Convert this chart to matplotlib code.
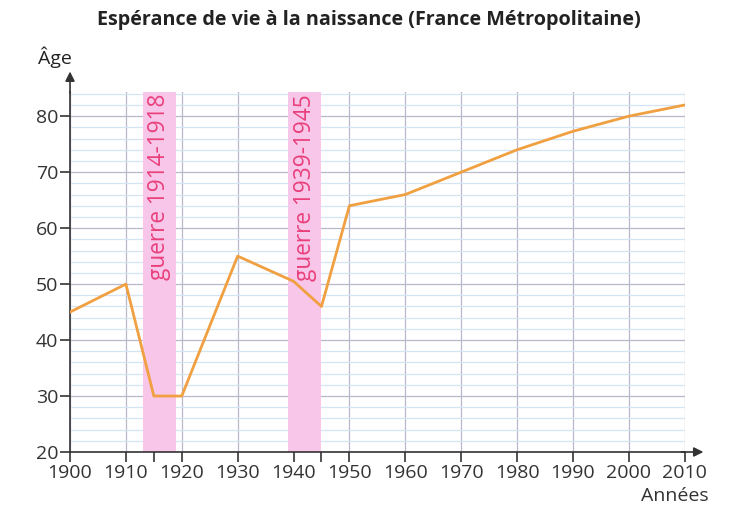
import matplotlib
matplotlib.use("Agg")
import matplotlib.pyplot as plt
from matplotlib.ticker import MultipleLocator, FixedLocator

plt.rcParams['font.family'] = ['Open Sans', 'DejaVu Sans']

years = [1900, 1910, 1915, 1920, 1930, 1940, 1945, 1950, 1960, 1970, 1980, 1990, 2000, 2010]
life_exp = [45, 50, 30, 30, 55, 50.5, 46, 64, 66, 70, 74, 77.3, 80, 82]
war_periods = [(1913, 1919, "guerre 1914-1918"), (1939, 1945, "guerre 1939-1945")]
xticks = list(range(1900, 2011, 10))
extra_xticks = [1915, 1945]
yticks = [20, 30, 40, 50, 60, 70, 80]

fig = plt.figure(figsize=(7.37, 5.09), dpi=100)
ax = fig.add_axes([0.095, 0.112, 0.834, 0.707])
ax.set_xlim(1900, 2010)
ax.set_ylim(20, 84.3)

# grid
ax.yaxis.set_minor_locator(MultipleLocator(2))
ax.xaxis.set_minor_locator(FixedLocator(extra_xticks))
ax.set_xticks(xticks)
ax.set_yticks(yticks)
ax.grid(which='minor', axis='y', color='#d3e4f3', lw=0.9)
ax.grid(which='major', axis='y', color='#b8b8cc', lw=0.9)
ax.grid(which='major', axis='x', color='#b8b8cc', lw=0.9)
ax.set_axisbelow(True)
ax.tick_params(axis='y', which='minor', length=0)
ax.tick_params(axis='x', which='minor', length=7, width=1.2, color='#333333')
ax.tick_params(which='major', length=7, width=1.2, color='#333333', labelsize=14,
               labelcolor='#333333', pad=1.5)

for a, b, lab in war_periods:
    ax.axvspan(a, b, color='#f8c6e8', lw=0, zorder=1)
    ax.text((a + b) / 2, 84.0, lab, rotation=90, ha='center', va='top',
            color='#e8407c', fontsize=16.3, zorder=2)

ax.plot(years, life_exp, color='#f0a040', lw=2, zorder=3)

for s in ['top', 'right']:
    ax.spines[s].set_visible(False)
ax.spines['left'].set_color('#333333')
ax.spines['bottom'].set_color('#333333')
ax.spines['left'].set_linewidth(1.2)
ax.spines['bottom'].set_linewidth(1.2)

# arrows
ax.annotate('', xy=(0, 1.065), xytext=(0, 0.99), xycoords='axes fraction',
            arrowprops=dict(arrowstyle='-|>', color='#333333', lw=1.2, mutation_scale=14),
            annotation_clip=False)
ax.annotate('', xy=(1.035, 0), xytext=(0.99, 0), xycoords='axes fraction',
            arrowprops=dict(arrowstyle='-|>', color='#333333', lw=1.2, mutation_scale=14),
            annotation_clip=False)

fig.text(0.075, 0.888, "Âge", fontsize=14, ha='center', va='center', color='#222222')
fig.text(0.962, 0.025, "Années", fontsize=14, ha='right', va='center', color='#333333')
fig.text(0.5, 0.961, "Espérance de vie à la naissance (France Métropolitaine)",
         fontsize=14.2, fontweight='bold', ha='center', va='center', color='#222222')

fig.savefig("out.png", dpi=100)
